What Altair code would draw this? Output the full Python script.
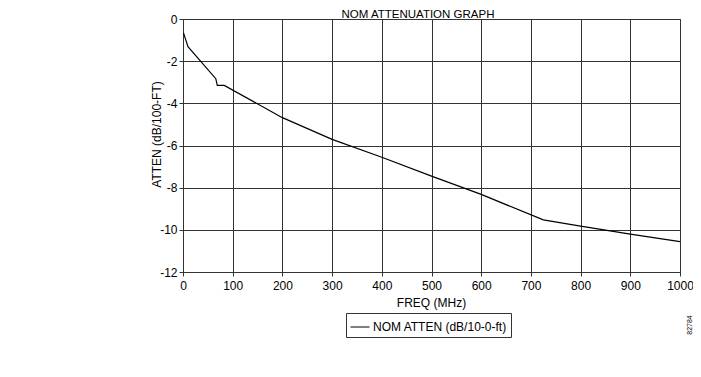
import altair as alt
import pandas as pd

# Data
freq = [1, 10, 66, 69, 83, 200, 300, 400, 500, 600, 725, 800, 900, 1000]
atten = [-0.66, -1.31, -2.83, -3.15, -3.15, -4.68, -5.71, -6.56, -7.45, -8.32, -9.53, -9.82, -10.2, -10.56]
series_name = "NOM ATTEN (dB/10-0-ft)"
x_ticks = [0, 100, 200, 300, 400, 500, 600, 700, 800, 900, 1000]
y_ticks = [0, -2, -4, -6, -8, -10, -12]
chart_title = ["NOM ATTENUATION GRAPH"]
stamp = ["82784"]

df = pd.DataFrame({"freq": freq, "atten": atten, "series": [series_name] * len(freq)})

FONT = "Liberation Sans"

line = alt.Chart(df).mark_line(strokeWidth=1.2, color="black").encode(
    x=alt.X(
        "freq:Q",
        scale=alt.Scale(domain=[0, 1000], nice=False, zero=False),
        axis=alt.Axis(
            values=x_ticks, title="FREQ (MHz)", grid=True,
            titleX=248, titleY=34, titleBaseline="alphabetic",
            labelPadding=4, labelFlush=False, labelExpr="toString(datum.value)",
        ),
    ),
    y=alt.Y(
        "atten:Q",
        scale=alt.Scale(domain=[-12, 0], nice=False, zero=False),
        axis=alt.Axis(
            values=y_ticks, title="ATTEN (dB/100-FT)", grid=True,
            titleX=-23, titleY=115, titleBaseline="alphabetic", titleAngle=270,
            labelPadding=2, labelFlush=False, labelExpr="toString(datum.value)",
        ),
    ),
    color=alt.Color(
        "series:N",
        scale=alt.Scale(range=["black"]),
        legend=alt.Legend(
            title=None, orient="none", legendX=163, legendY=294,
            symbolType="stroke", symbolSize=361, symbolStrokeWidth=1,
            strokeColor="#333", padding=4, labelOffset=3,
            labelFontSize=12, labelFont=FONT, labelColor="black",
        ),
    ),
)

title_layer = alt.Chart(pd.DataFrame({"t": chart_title})).mark_text(
    fontSize=11.5, font=FONT, color="black", align="center", baseline="alphabetic"
).encode(x=alt.value(235), y=alt.value(-1), text="t:N")

stamp_layer = alt.Chart(pd.DataFrame({"t": stamp})).mark_text(
    angle=270, fontSize=7, font=FONT, color="black"
).encode(x=alt.value(507), y=alt.value(306), text="t:N")

chart = alt.layer(line, title_layer, stamp_layer).properties(
    width=497,
    height=253,
    autosize=alt.AutoSizeParams(type="none"),
    padding={"left": 175, "top": 11, "right": 13, "bottom": 97},
).configure_axis(
    gridColor="#333", gridOpacity=1, gridWidth=1,
    domainColor="#333", tickColor="#333", tickSize=4,
    labelFont=FONT, labelFontSize=12, labelColor="black",
    titleFont=FONT, titleFontSize=12, titleFontWeight="normal", titleColor="black",
).configure_view(stroke="#333", strokeWidth=1)

chart.save("out.html", embed_options={"renderer": "svg", "actions": False})
